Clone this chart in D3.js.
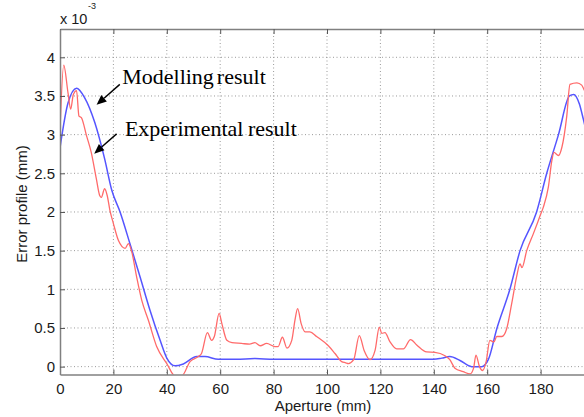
<!DOCTYPE html>
<html>
<head>
<meta charset="utf-8">
<script src="https://cdn.jsdelivr.net/npm/d3@7"></script>
<style>
  html, body { margin: 0; padding: 0; background: #fff; overflow: hidden; }
  svg { display: block; }
</style>
</head>
<body>
<svg id="chart" width="584" height="417"></svg>
<script>
// ---- data (aperture in mm, error in 1e-3 mm) ----
const modelX = [0, 3, 6.2, 9.2, 13, 16.7, 19.4, 22.5, 26.2, 30, 33.7, 37.5, 40, 43.1, 46.2, 51.2, 54.3, 59.3, 66, 73, 80, 100, 120, 140, 143, 146, 149.8, 154.2, 157.9, 160.4, 163.6, 168.5, 172.3, 178.5, 182.3, 186.7, 190.8, 192.4, 194.5, 196, 198];
const modelY = [2.83, 3.41, 3.60, 3.48, 3.16, 2.69, 2.28, 2.0, 1.59, 1.16, 0.73, 0.34, 0.11, 0.01, 0.035, 0.13, 0.13, 0.095, 0.095, 0.105, 0.095, 0.095, 0.095, 0.095, 0.11, 0.13, 0.08, 0.0, 0.0, 0.09, 0.49, 1.0, 1.5, 2.0, 2.5, 3.0, 3.5, 3.52, 3.4, 3.2, 2.9];

const expX = [0, 1.4, 3.0, 4.0, 5.0, 6.2, 7.1, 8.0, 9.9, 11.7, 13.6, 14.9, 15.5, 16.7, 17.7, 18.7, 20.0, 21.9, 24.4, 25.6, 26.9, 28.7, 30.6, 33.1, 36.2, 40.0, 43.1, 45.6, 48.7, 51.8, 53.0, 55.2, 56.8, 57.8, 59.6, 60.6, 62.5, 64.4, 68, 71, 73, 75, 77.4, 80.5, 81.7, 83.3, 85, 86.8, 88, 89, 90.3, 91.8, 93.6, 96.1, 100.5, 103, 105.5, 107, 108, 110, 112.1, 113.9, 116.1, 118, 119.6, 120.5, 121.7, 123.6, 126.1, 128.6, 131.3, 133.6, 137.3, 140.4, 144.2, 146, 147.9, 151, 153.6, 154.9, 155.8, 157.1, 158.3, 159.6, 161, 162.5, 163.6, 165.5, 167.3, 169.2, 171, 172.3, 173, 174.8, 177.3, 179.8, 181, 182.9, 184.2, 185, 186.7, 188, 189.8, 191, 193.6, 195.4, 196.3, 198];
const expY = [3.05, 3.90, 3.54, 3.33, 3.52, 3.57, 3.24, 3.22, 2.99, 2.77, 2.43, 2.21, 2.19, 2.30, 2.21, 2.02, 1.85, 1.63, 1.53, 1.59, 1.48, 1.16, 0.86, 0.60, 0.26, 0.04, -0.12, -0.12, 0.065, 0.13, 0.17, 0.44, 0.34, 0.39, 0.69, 0.56, 0.34, 0.31, 0.30, 0.29, 0.31, 0.27, 0.30, 0.26, 0.26, 0.38, 0.24, 0.34, 0.60, 0.75, 0.56, 0.45, 0.45, 0.39, 0.27, 0.17, 0.065, 0.05, 0.04, 0.09, 0.40, 0.21, 0.09, 0.21, 0.51, 0.43, 0.44, 0.32, 0.23, 0.23, 0.35, 0.28, 0.19, 0.185, 0.14, 0.09, -0.02, -0.065, -0.095, -0.02, 0.15, 0.0, -0.05, 0.065, 0.34, 0.32, 0.39, 0.39, 0.49, 0.82, 1.16, 1.33, 1.28, 1.50, 1.72, 1.95, 2.06, 2.32, 2.66, 2.77, 2.73, 2.84, 3.24, 3.65, 3.67, 3.64, 3.58, 3.45];

const xTicks = [0, 20, 40, 60, 80, 100, 120, 140, 160, 180, 200];
const xTickLabels = ["0", "20", "40", "60", "80", "100", "120", "140", "160", "180", ""];
const yTicks = [0, 0.5, 1, 1.5, 2, 2.5, 3, 3.5, 4];
const yTickLabels = ["0", "0.5", "1", "1.5", "2", "2.5", "3", "3.5", "4"];

const xLabel = "Aperture (mm)";
const yLabel = "Error profile (mm)";
const expLabel = "x 10";
const expSup = "-3";

// annotations (data units)
const annoText = ["Modelling result", "Experimental result"];
const annoTextPos = [[23.3, 3.655], [24.3, 2.986]];
const annoArrowFrom = [[22.4, 3.65], [21.2, 3.01]];
const annoArrowTo = [[13.7, 3.385], [12.8, 2.754]];

// ---- chart ----
(function () {
const svg = d3.select("#chart");
const mLeft = 60, mTop = 29, mBottom = 374.6, mRight = 594;

const x = d3.scaleLinear().domain([0, 200]).range([mLeft, mRight]);
const y = d3.scaleLinear().domain([-0.103, 4.366]).range([mBottom, mTop]);

svg.append("defs").append("clipPath").attr("id", "clip")
  .append("rect").attr("x", mLeft).attr("y", mTop)
  .attr("width", mRight - mLeft).attr("height", mBottom - mTop);

// grid
const grid = svg.append("g");
grid.selectAll("line.vg").data(xTicks.filter(d => d > 0 && d < 200)).join("line")
  .attr("class", "vg")
  .attr("x1", d => x(d)).attr("x2", d => x(d))
  .attr("y1", mTop).attr("y2", mBottom)
  .attr("stroke", "#9a9a9a").attr("stroke-width", 1)
  .attr("stroke-dasharray", "1,2.5");
grid.selectAll("line.hg").data(yTicks).join("line")
  .attr("class", "hg")
  .attr("y1", d => y(d)).attr("y2", d => y(d))
  .attr("x1", mLeft).attr("x2", mRight)
  .attr("stroke", "#9a9a9a").attr("stroke-width", 1)
  .attr("stroke-dasharray", "1,2.5");

// lines
const plot = svg.append("g").attr("clip-path", "url(#clip)");
const modelData = modelX.map((d, i) => [d, modelY[i]]);
const expData = expX.map((d, i) => [d, expY[i]]);
const line = d3.line().x(d => x(d[0])).y(d => y(d[1])).curve(d3.curveMonotoneX);

plot.append("path").datum(modelData).attr("d", line)
  .attr("fill", "none").attr("stroke", "#5555ff").attr("stroke-width", 1.5);
plot.append("path").datum(expData).attr("d", line)
  .attr("fill", "none").attr("stroke", "#ff6a6a").attr("stroke-width", 1.3);

// axes
const axisColor = "#808080";
const fontSans = "'Liberation Sans', Arial, sans-serif";

const gBottom = svg.append("g").attr("transform", `translate(0,${mBottom})`)
  .call(d3.axisBottom(x).tickValues(xTicks).tickSizeInner(-5).tickSizeOuter(0).tickPadding(9)
    .tickFormat((d, i) => xTickLabels[i]));
const gTop = svg.append("g").attr("transform", `translate(0,${mTop})`)
  .call(d3.axisTop(x).tickValues(xTicks).tickSizeInner(-5).tickSizeOuter(0).tickFormat(""));
const gLeft = svg.append("g").attr("transform", `translate(${mLeft},0)`)
  .call(d3.axisLeft(y).tickValues(yTicks).tickSizeInner(-5).tickSizeOuter(0).tickPadding(10)
    .tickFormat((d, i) => yTickLabels[i]));

[gBottom, gTop, gLeft].forEach(g => {
  g.select(".domain").attr("stroke", axisColor).attr("stroke-width", 1.5);
  g.selectAll(".tick line").attr("stroke", "#555").attr("stroke-width", 1);
  g.selectAll(".tick text").attr("fill", "#1a1a1a")
    .style("font-family", fontSans).style("font-size", "15px");
});
gBottom.selectAll(".tick text").attr("dy", "0.71em");
gLeft.selectAll(".tick text").attr("x", -5);

// axis titles
svg.append("text").attr("x", 323).attr("y", 411)
  .attr("text-anchor", "middle").attr("fill", "#1a1a1a")
  .style("font-family", fontSans).style("font-size", "15px")
  .text(xLabel);
svg.append("text").attr("transform", "translate(26.5,204) rotate(-90)")
  .attr("text-anchor", "middle").attr("fill", "#1a1a1a")
  .style("font-family", fontSans).style("font-size", "15px")
  .text(yLabel);

// exponent label
const ex = svg.append("text").attr("x", mLeft).attr("y", 24)
  .attr("fill", "#1a1a1a").style("font-family", fontSans).style("font-size", "14.5px");
ex.append("tspan").text(expLabel);
ex.append("tspan").attr("dy", -15.5).attr("dx", 0.5).style("font-size", "9px").text(expSup);

// annotations
const ann = svg.append("g");
annoText.forEach((t, i) => {
  ann.append("text").attr("x", x(annoTextPos[i][0])).attr("y", y(annoTextPos[i][1]))
    .attr("fill", "#000")
    .style("font-family", "'Liberation Serif', 'Times New Roman', serif")
    .style("font-size", "22px").style("word-spacing", i === 0 ? "-2.5px" : "-1px")
    .text(t);
  const x1 = x(annoArrowFrom[i][0]), y1 = y(annoArrowFrom[i][1]);
  const x2 = x(annoArrowTo[i][0]), y2 = y(annoArrowTo[i][1]);
  const ang = Math.atan2(y2 - y1, x2 - x1);
  const L = 10, W = 4.2;
  const bx = x2 - L * Math.cos(ang), by = y2 - L * Math.sin(ang);
  ann.append("line").attr("x1", x1).attr("y1", y1).attr("x2", bx).attr("y2", by)
    .attr("stroke", "#000").attr("stroke-width", 1.4);
  ann.append("path")
    .attr("d", `M${x2},${y2}L${bx + W * Math.sin(ang)},${by - W * Math.cos(ang)}L${bx - W * Math.sin(ang)},${by + W * Math.cos(ang)}Z`)
    .attr("fill", "#000");
});
})();
</script>
</body>
</html>
